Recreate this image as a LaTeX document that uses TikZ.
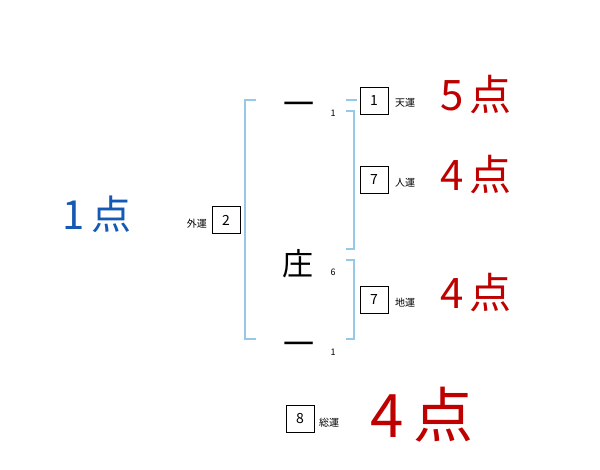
\documentclass[tikz,border=0pt]{standalone}
\usepackage{fontspec}
\setmainfont{Noto Sans CJK JP}
\definecolor{bracketblue}{RGB}{150,200,232}
\definecolor{scorered}{RGB}{190,0,0}
\definecolor{scoreblue}{RGB}{20,90,180}
\begin{document}
\begin{tikzpicture}[x=1pt,y=-1pt,
  numbox/.style={draw=black,line width=0.7pt,minimum width=28pt,minimum height=27pt,inner sep=0pt,font=\fontsize{14}{14}\selectfont},
  lbl/.style={inner sep=0pt,font=\fontsize{10}{10}\selectfont},
  kanji/.style={inner sep=0pt,font=\fontsize{31}{31}\selectfont},
  stroke/.style={inner sep=0pt,font=\fontsize{9}{9}\selectfont},
  score/.style={inner sep=0pt,text=scorered},
  brk/.style={draw=bracketblue,line width=1.6pt}]
\useasboundingbox (0,0) rectangle (600,470);
% characters
\node[kanji] (k1) at (299,109) {一};
\node[kanji] (k2) at (298,264) {庄};
\node[kanji] (k3) at (299,349) {一};
\node[stroke] (s1) at (333,113) {1};
\node[stroke] (s2) at (333,272) {6};
\node[stroke] (s3) at (333,352) {1};
% brackets
\draw[brk] (256,100) -- (245,100) -- (245,339) -- (256,339);
\draw[brk] (346,111) -- (354,111) -- (354,249) -- (346,249);
\draw[brk] (346,260) -- (354,260) -- (354,339) -- (346,339);
\draw[brk] (346,100) -- (357,100);
% boxes
\node[numbox] (b1) at (374,101) {1};
\node[lbl,anchor=west] (l1) at (395,103) {天運};
\node[numbox] (b2) at (374,180) {7};
\node[lbl,anchor=west] (l2) at (395,183) {人運};
\node[numbox] (b3) at (374,300) {7};
\node[lbl,anchor=west] (l3) at (395,303) {地運};
\node[numbox] (b4) at (226,220) {2};
\node[lbl,anchor=east] (l4) at (207,224) {外運};
\node[numbox] (b5) at (300,419) {8};
\node[lbl,anchor=west] (l5) at (319,423) {総運};
% scores
\node[score,font=\fontsize{42}{42}\selectfont] (p1) at (476,95) {5\hspace{6pt}点};
\node[score,font=\fontsize{42}{42}\selectfont] (p2) at (476,175) {4\hspace{6pt}点};
\node[score,font=\fontsize{42}{42}\selectfont] (p3) at (476,293) {4\hspace{6pt}点};
\node[score,font=\fontsize{60}{60}\selectfont] (p4) at (422,415) {4\hspace{10pt}点};
\node[score,text=scoreblue,font=\fontsize{40}{40}\selectfont] (p5) at (97,214) {1\hspace{6pt}点};
\end{tikzpicture}
\end{document}
